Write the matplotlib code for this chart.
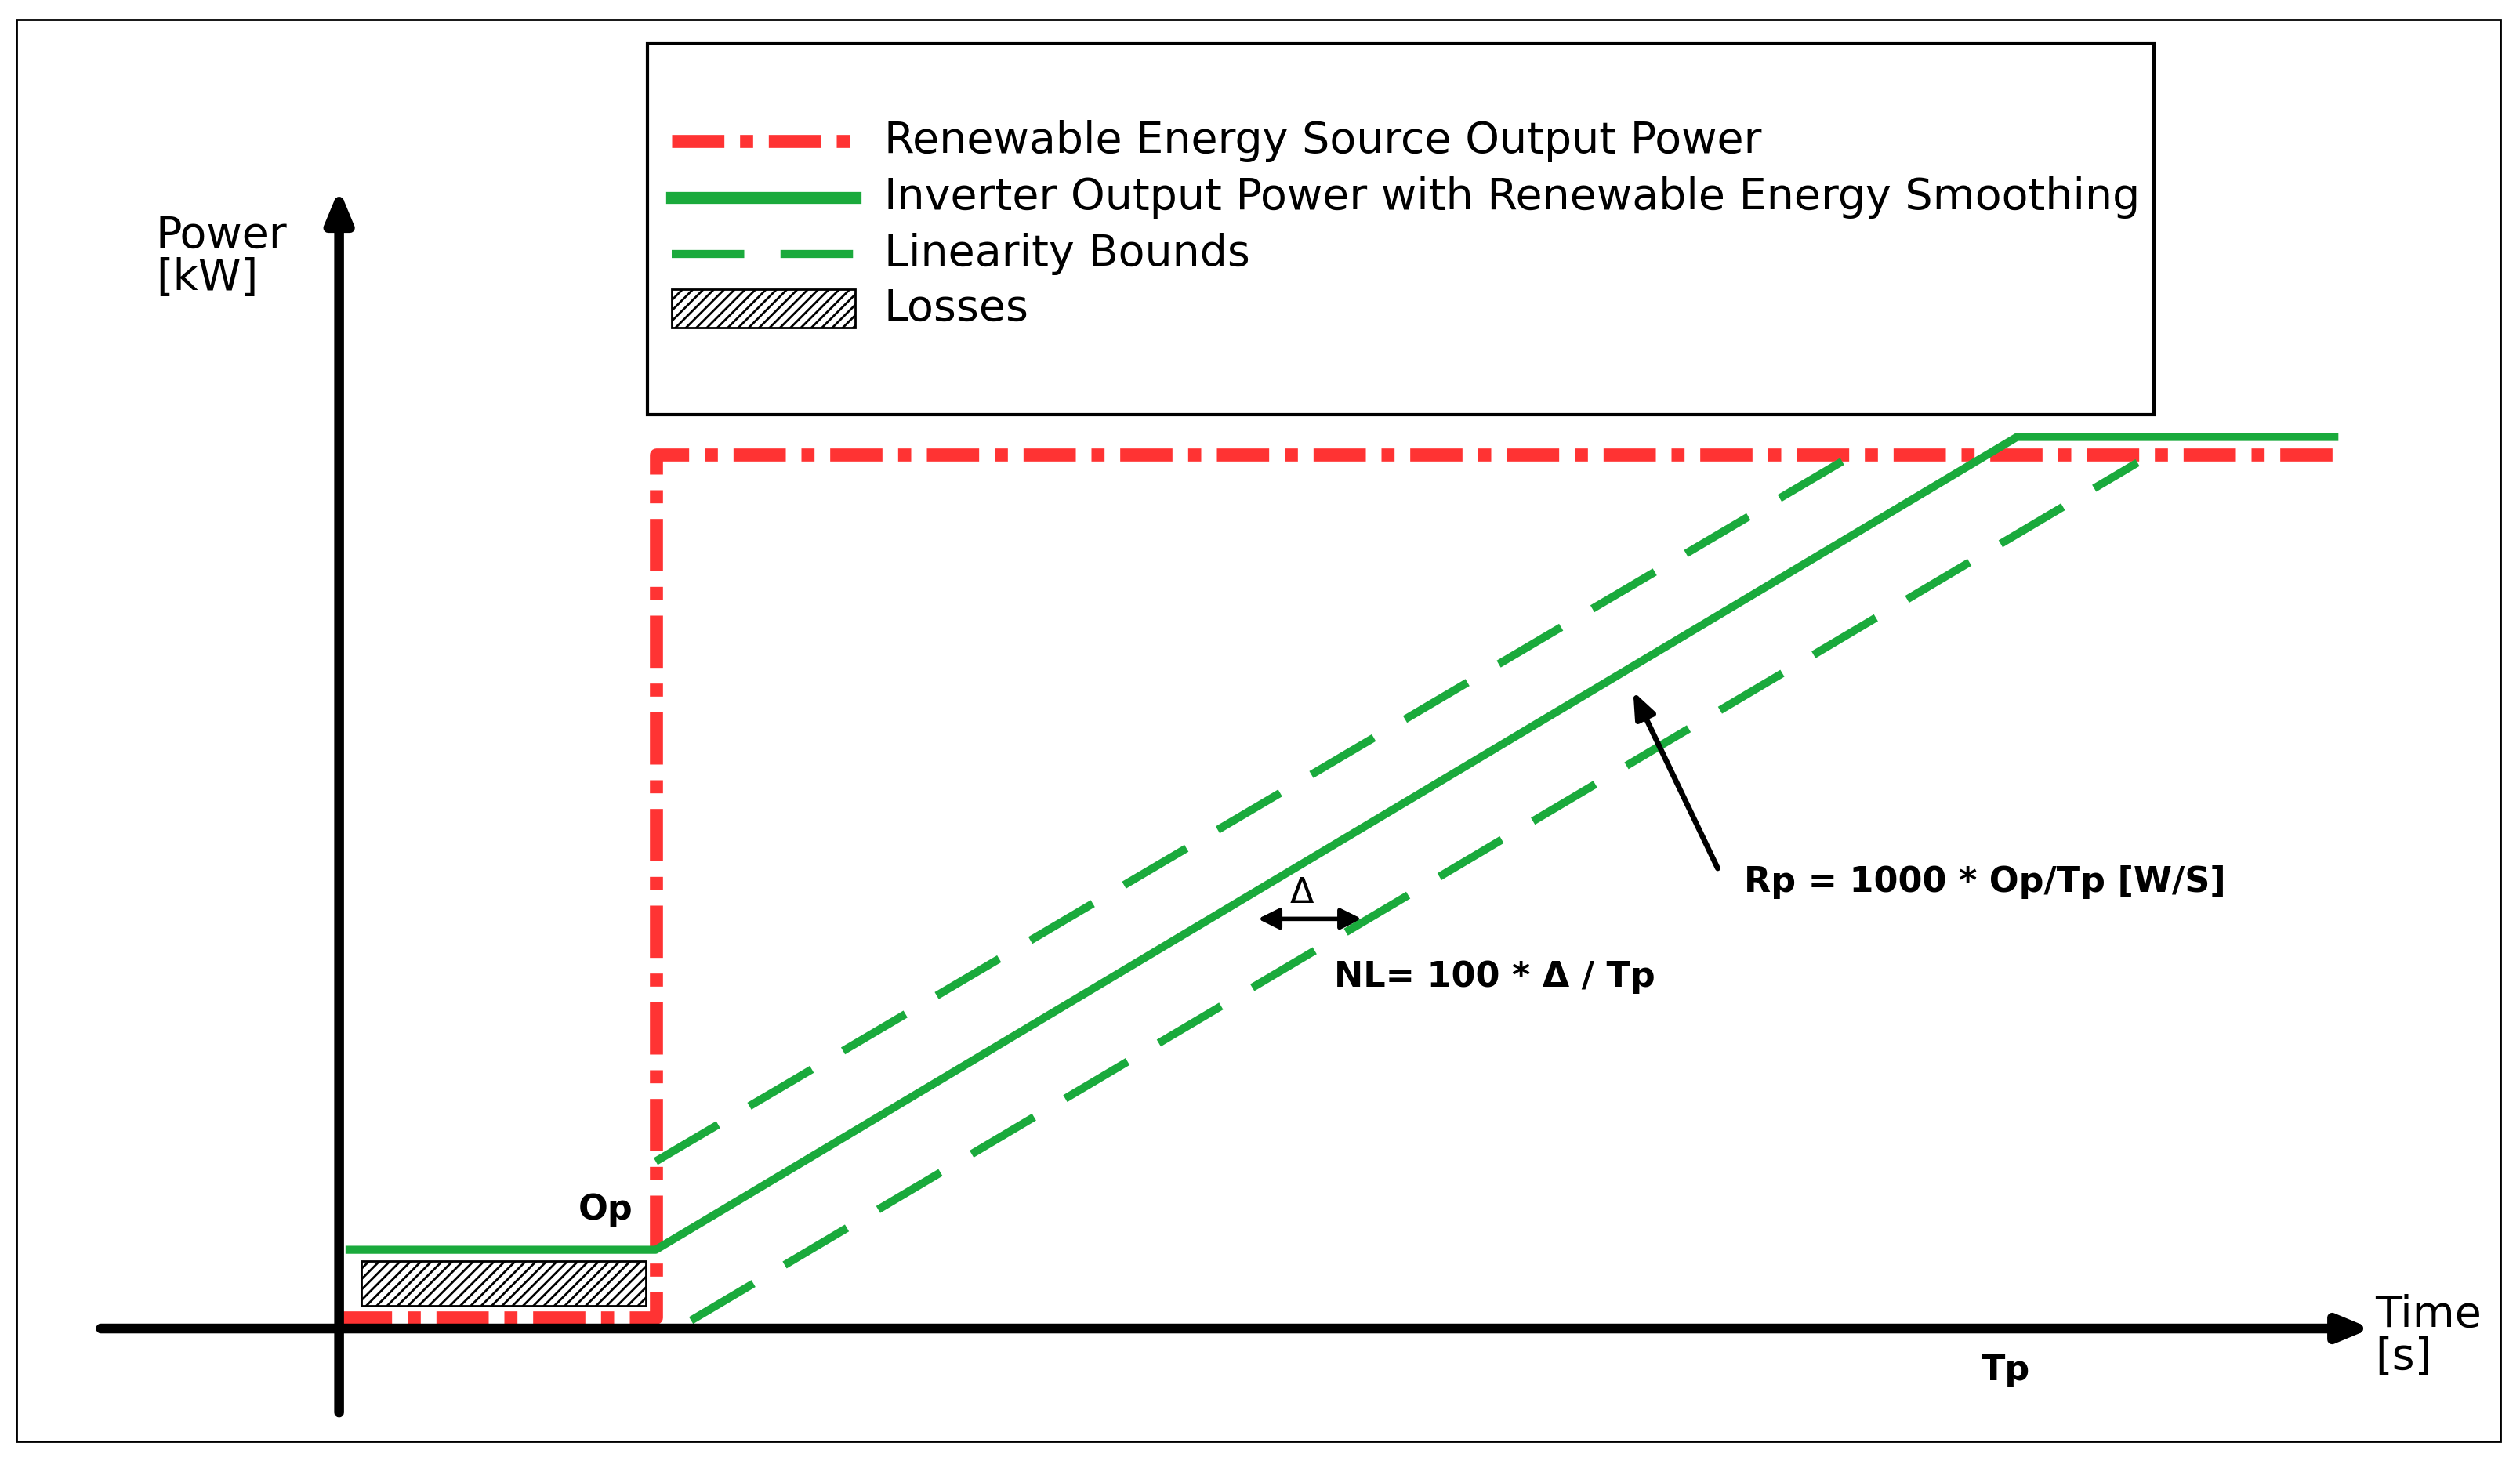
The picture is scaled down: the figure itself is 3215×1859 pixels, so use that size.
import matplotlib.pyplot as plt
from matplotlib.patches import Rectangle, FancyArrowPatch

# schematic drawn in picture units (x right, y down)
red_x = [211, 408, 408, 1455]
red_y = [820, 820, 283, 283]
inv_x = [215, 408, 1255, 1455]
inv_y = [778, 778, 272, 272]
upper_x = [408, 1150]
upper_y = [723, 285]
lower_x = [430, 1330]
lower_y = [822, 288]
loss_box = [225, 785, 177, 28]  # x, y, w, h

legend_labels = ['Renewable Energy Source Output Power',
                 'Inverter Output Power with Renewable Energy Smoothing',
                 'Linearity Bounds',
                 'Losses']

RED = '#ff3333'
GREEN = '#1aaa3c'
DASH = (0, (9, 4.5))

fig = plt.figure(figsize=(16.075, 9.295), dpi=200)
ax = fig.add_axes([0, 0, 1, 1])
ax.set_xlim(0, 1568)
ax.set_ylim(907, 0)
ax.axis('off')

ax.add_patch(Rectangle((10, 12), 1546, 885, fill=False, lw=1, ec='black'))

ax.add_patch(Rectangle(loss_box[:2], loss_box[2], loss_box[3], fill=False,
                       hatch='/////', ec='black', lw=1))
ax.plot(red_x, red_y, color=RED, lw=6, ls=(0, (4, 1.2, 1, 1.2)))
ax.plot(inv_x, inv_y, color=GREEN, lw=3.7, solid_capstyle='butt')
ax.plot(upper_x, upper_y, color=GREEN, lw=3.7, ls=DASH)
ax.plot(lower_x, lower_y, color=GREEN, lw=3.7, ls=DASH)

# axes arrows
ax.annotate('', xy=(1478, 827), xytext=(60, 827),
            arrowprops=dict(arrowstyle='-|>,head_length=1.2,head_width=0.5', lw=4.5, color='black'))
ax.annotate('', xy=(211, 115), xytext=(211, 882),
            arrowprops=dict(arrowstyle='-|>,head_length=1.2,head_width=0.5', lw=4.5, color='black'))

fs = 20
ax.text(97, 160, 'Power\n[kW]', fontsize=fs, ha='left', va='center', linespacing=1.0)
ax.text(1478, 832, 'Time\n[s]', fontsize=fs, ha='left', va='center', linespacing=1.0)
ax.text(360, 753, 'Op', fontsize=16, fontweight='bold', ha='left', va='center')
ax.text(1233, 853, 'Tp', fontsize=16, fontweight='bold', ha='left', va='center')
ax.text(1085, 549, 'Rp = 1000 * Op/Tp [W/S]', fontsize=16, fontweight='bold', va='center')
ax.text(830, 608, 'NL= 100 * \u0394 / Tp', fontsize=16, fontweight='bold', va='center')
ax.text(810, 556, '\u0394', fontsize=16, ha='center', va='center')
ax.add_patch(FancyArrowPatch((780, 572), (850, 572), arrowstyle='<|-|>,head_length=4,head_width=2',
                             lw=2, color='black', mutation_scale=2))
ax.annotate('', xy=(1015, 428), xytext=(1070, 543),
            arrowprops=dict(arrowstyle='-|>,head_length=1.0,head_width=0.4', lw=2.5, color='black'))

# legend box
ax.add_patch(Rectangle((403, 27), 937, 231, fill=False, lw=1.5, ec='black'))
ly = [88, 123, 158, 192]
ax.plot([418, 532], [ly[0]] * 2, color=RED, lw=6, ls=(0, (4, 1.2, 1, 1.2)))
ax.plot([418, 532], [ly[1]] * 2, color=GREEN, lw=5.5)
ax.plot([418, 532], [ly[2]] * 2, color=GREEN, lw=3.7, ls=DASH)
ax.add_patch(Rectangle((418, 180), 114, 24, fill=False, hatch='/////', ec='black', lw=1))
for y, lab in zip(ly, legend_labels):
    ax.text(550, y, lab, fontsize=fs, va='center', ha='left')

fig.savefig('out.png', dpi=200)
